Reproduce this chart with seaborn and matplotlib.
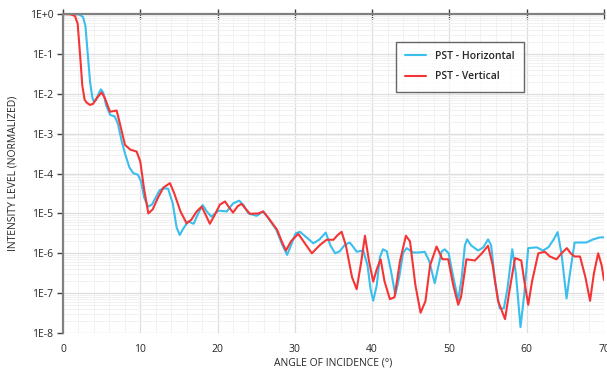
import numpy as np
import pandas as pd
import seaborn as sns
import matplotlib.pyplot as plt
from matplotlib.ticker import FixedLocator, LogLocator, NullFormatter, FuncFormatter

# angle (deg) and log10 of the normalized intensity
horiz_deg = [0, 1.5, 2.2, 2.6, 2.9, 3.2, 3.5, 3.8, 4.0, 4.3, 4.6, 4.9, 5.2, 5.6, 6.1, 6.7,
             7.1, 7.6, 8.1, 8.6, 9.1, 9.7, 10.1, 10.5, 11.0, 11.5, 12.0, 12.5, 13.0, 13.6,
             14.2, 14.7, 15.1, 15.5, 16.2, 16.9, 17.5, 18.07, 18.6, 19.2, 20.1, 21.2, 22.0,
             22.8, 23.4, 24.0, 25.05, 25.9, 26.5, 27.6, 28.4, 29.0, 29.6, 30.1, 30.66, 31.5,
             32.4, 33.2, 34.0, 34.6, 35.2, 35.8, 36.5, 37.1, 37.6, 38.0, 38.85, 39.4, 39.8,
             40.14, 40.6, 41.0, 41.4, 41.9, 42.4, 43.0, 43.5, 44.0, 44.45, 45.3, 46.0, 46.8,
             47.4, 48.1, 48.6, 49.0, 49.4, 49.9, 50.5, 51.14, 51.6, 52.0, 52.3, 52.8, 53.7,
             54.4, 55.0, 55.4, 55.9, 56.5, 57.05, 57.5, 58.13, 58.6, 59.2, 59.7, 60.2, 61.3,
             62.1, 62.8, 63.5, 64.0, 64.5, 65.16, 65.6, 66.2, 67.7, 68.6, 69.5, 70.0]
horiz_log = [0, 0, -0.02, -0.08, -0.3, -1.0, -1.7, -2.1, -2.2, -2.15, -2.0, -1.89, -1.97, -2.3,
             -2.53, -2.57, -2.75, -3.2, -3.55, -3.85, -3.99, -4.03, -4.2, -4.6, -4.83, -4.78,
             -4.6, -4.42, -4.37, -4.38, -4.75, -5.35, -5.54, -5.4, -5.2, -5.26, -5.0, -4.79,
             -4.95, -5.08, -4.93, -4.95, -4.75, -4.68, -4.8, -5.0, -5.06, -4.95, -5.1, -5.41,
             -5.8, -6.04, -5.75, -5.5, -5.46, -5.6, -5.75, -5.65, -5.48, -5.8, -6.0, -5.95,
             -5.78, -5.73, -5.85, -5.96, -5.93, -6.3, -6.9, -7.19, -6.8, -6.1, -5.9, -5.95,
             -6.4, -7.04, -6.6, -6.0, -5.87, -5.98, -5.98, -5.96, -6.2, -6.75, -6.3, -5.95,
             -5.9, -6.0, -6.6, -7.17, -6.6, -5.8, -5.65, -5.8, -5.93, -5.85, -5.65, -5.8,
             -6.7, -7.38, -7.38, -6.9, -5.9, -6.5, -7.85, -7.0, -5.87, -5.85, -5.93, -5.85,
             -5.65, -5.47, -6.0, -7.13, -6.5, -5.73, -5.73, -5.65, -5.6, -5.6]

vert_deg = [0, 1.0, 1.55, 1.9, 2.2, 2.5, 2.8, 3.1, 3.5, 3.9, 4.4, 5.0, 5.4, 6.08, 6.94, 7.3,
            8.02, 8.7, 9.53, 10.0, 10.5, 11.04, 11.6, 12.3, 13.0, 13.84, 14.4, 15.2, 16.0,
            16.6, 17.3, 17.94, 18.5, 19.0, 19.6, 20.3, 20.96, 21.5, 22.0, 22.6, 23.1, 23.6,
            24.2, 25.3, 25.9, 26.6, 27.7, 28.3, 28.85, 29.5, 30.44, 31.3, 32.2, 33.2, 34.1,
            35.0, 35.5, 36.05, 36.6, 37.4, 38.0, 38.6, 39.07, 39.6, 40.14, 40.6, 41.1, 41.6,
            42.3, 42.9, 43.6, 44.37, 44.9, 45.6, 46.27, 46.9, 47.5, 48.34, 49.1, 49.85, 50.5,
            51.14, 51.5, 52.2, 53.3, 54.2, 55.0, 55.6, 56.3, 57.2, 57.8, 58.5, 59.3, 59.7,
            60.2, 60.7, 61.5, 62.35, 63.0, 63.86, 64.5, 65.2, 65.7, 66.2, 66.9, 67.6, 68.2,
            68.7, 69.25, 69.7, 70.0]
vert_log = [0, -0.01, -0.05, -0.25, -1.0, -1.8, -2.15, -2.23, -2.28, -2.25, -2.1, -1.97, -2.1,
            -2.45, -2.42, -2.7, -3.28, -3.4, -3.45, -3.7, -4.4, -5.0, -4.9, -4.6, -4.35, -4.24,
            -4.5, -4.95, -5.25, -5.16, -4.95, -4.83, -5.05, -5.26, -5.05, -4.78, -4.7, -4.85,
            -4.98, -4.82, -4.76, -4.88, -5.01, -5.0, -4.95, -5.12, -5.41, -5.7, -5.93, -5.7,
            -5.51, -5.75, -6.0, -5.8, -5.66, -5.66, -5.55, -5.46, -5.8, -6.6, -6.9, -6.2,
            -5.56, -6.2, -6.71, -6.4, -6.15, -6.7, -7.15, -7.1, -6.2, -5.56, -5.7, -6.8, -7.49,
            -7.2, -6.3, -5.83, -6.15, -6.15, -6.8, -7.29, -7.1, -6.15, -6.18, -6.0, -5.81,
            -6.3, -7.2, -7.65, -6.9, -6.12, -6.18, -6.7, -7.29, -6.7, -6.0, -5.96, -6.08,
            -6.15, -6.0, -5.87, -6.0, -6.08, -6.08, -6.6, -7.19, -6.5, -6.0, -6.3, -6.67]

y_ticks = [1e0, 1e-1, 1e-2, 1e-3, 1e-4, 1e-5, 1e-6, 1e-7, 1e-8]
x_ticks = [0, 10, 20, 30, 40, 50, 60, 70]

df = pd.concat([
    pd.DataFrame({"angle": horiz_deg, "level": 10.0 ** np.array(horiz_log), "series": "PST - Horizontal"}),
    pd.DataFrame({"angle": vert_deg, "level": 10.0 ** np.array(vert_log), "series": "PST - Vertical"}),
])

sns.set_style("white")
plt.rcParams['font.family'] = ['Open Sans', 'DejaVu Sans']

fig = plt.figure(figsize=(6.07, 3.73), dpi=100)
ax = fig.add_axes([0.1038, 0.107, 0.8912, 0.8555])

ax.set_yscale("log")
g = sns.lineplot(data=df, x="angle", y="level", hue="series", ax=ax, sort=False,
                 palette={"PST - Horizontal": "#3ABEEE", "PST - Vertical": "#F53535"},
                 linewidth=1.5, estimator=None)
for ln in ax.get_lines():
    ln.set_solid_joinstyle("round")

ax.set_xlim(0, 70)
ax.set_ylim(1e-8, 1)

ax.xaxis.set_major_locator(FixedLocator(x_ticks))
ax.xaxis.set_minor_locator(FixedLocator(np.arange(0, 71, 2)))
ax.yaxis.set_major_locator(FixedLocator(y_ticks))
ax.yaxis.set_minor_locator(LogLocator(base=10, subs=np.arange(2, 10), numticks=20))
ax.yaxis.set_minor_formatter(NullFormatter())
ax.yaxis.set_major_formatter(FuncFormatter(lambda v, p: "1E+0" if v >= 1 else "1E%d" % round(np.log10(v))))

ax.grid(which="major", color="#dedede", linewidth=0.9)
ax.grid(which="minor", color="#f1f1f1", linewidth=0.7)
ax.set_axisbelow(True)

for side in ["right", "bottom"]:
    ax.spines[side].set_visible(False)
for side in ["left", "top"]:
    ax.spines[side].set_color("#808080")
    ax.spines[side].set_linewidth(1.6)

ax.tick_params(axis="x", which="major", bottom=False, top=True, labelbottom=True, labeltop=False,
               direction="inout", length=7, width=1.0, color="#404040", labelsize=7.5, pad=4)
ax.tick_params(axis="x", which="minor", bottom=False, top=False)
ax.tick_params(axis="y", which="major", left=True, direction="out", length=4, width=1.0,
               color="#404040", labelsize=7.5, pad=3)
ax.tick_params(axis="y", which="minor", left=False)

ax.set_xlabel("ANGLE OF INCIDENCE (°)", fontsize=7.5, labelpad=2)
ax.set_ylabel("INTENSITY LEVEL (NORMALIZED)", fontsize=7.5, labelpad=8)

leg = ax.legend(loc="upper left", bbox_to_anchor=(0.606, 0.93),
                frameon=True, fancybox=False, handlelength=2.0, borderpad=0.9,
                labelspacing=0.9, prop={"weight": "semibold", "size": 7.5})
leg.get_frame().set_edgecolor("#404040")
leg.get_frame().set_linewidth(1.0)

fig.savefig("out.png", dpi=100)
